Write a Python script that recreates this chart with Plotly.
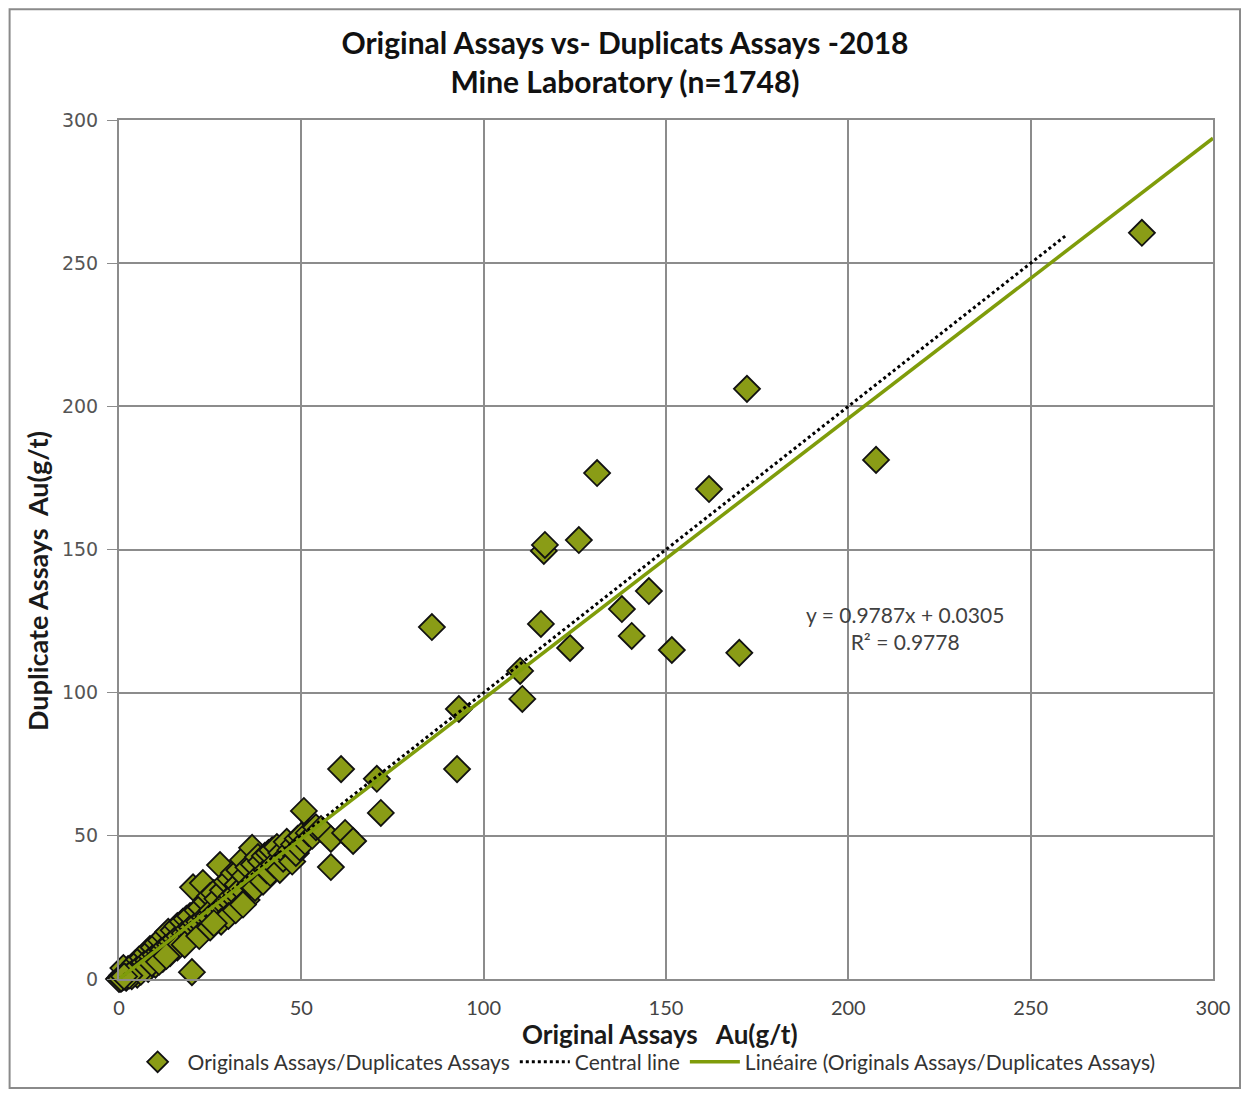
import plotly.graph_objects as go

# original assay (x) vs duplicate assay (y), Au g/t
orig_au = [
    0.2, 0.5, 0.8, 1.0, 1.5, 2.0, 2.5, 3.0, 1.2, 3.5, 4.0, 4.5, 5.0, 5.5, 6.0, 6.5,
    7.0, 7.5, 8.0, 8.5, 9.0, 9.5, 10.0, 10.5, 11.0, 11.5, 12.0, 12.5, 13.0, 13.5,
    14.0, 14.5, 15.0, 15.5, 16.0, 16.5, 17.0, 17.5, 18.0, 18.5, 19.0, 19.5, 20.0,
    20.3, 20.0, 21.0, 21.5, 22.0, 23.0, 22.5, 23.5, 24.0, 24.5, 25.0, 25.5, 26.0,
    26.5, 27.0, 27.7, 28.0, 28.5, 29.0, 29.5, 30.0, 30.5, 31.0, 31.5, 32.0, 32.5,
    33.0, 33.5, 34.0, 34.5, 35.0, 35.5, 36.5, 36.0, 37.0, 37.3, 38.1, 38.5, 39.0,
    39.5, 40.0, 40.5, 41.0, 41.5, 42.0, 42.5, 43.3, 44.1, 44.5, 45.0, 46.0, 46.5,
    47.0, 47.5, 48.0, 48.5, 49.0, 49.5, 50.0, 50.7, 51.0, 52.0, 53.0, 54.0, 55.4,
    58.1, 58.1, 5.0, 8.0, 10.0, 12.0, 14.0, 16.0, 18.0, 22.0, 25.0, 28.0, 30.0,
    32.0, 26.0, 34.0, 2.0, 3.5, 6.0, 9.0, 11.0, 13.0,
    0.0, 0.3, 0.6, 1.8, 0.1, 2.8, 0.9, 1.4,
    60.9, 62.0, 64.2, 70.7, 71.8, 85.8, 92.7, 93.2, 110.0, 110.6, 115.7, 116.5,
    116.8, 123.7, 126.1, 131.1, 137.9, 140.6, 145.3, 151.6, 161.8, 170.1, 172.2,
    207.6, 280.5,
]
dup_au = [
    0.3, 0.1, 1.2, 0.5, 2.0, 1.4, 3.5, 2.2, 3.8, 4.2, 3.0, 5.5, 4.0, 6.8, 5.0, 7.5,
    5.8, 9.0, 6.5, 10.5, 7.8, 11.0, 8.5, 12.5, 9.5, 13.5, 10.0, 15.0, 11.5, 16.5,
    12.0, 13.0, 17.0, 14.0, 18.5, 15.0, 13.0, 20.0, 16.0, 21.0, 17.5, 22.0, 18.0,
    32.0, 2.4, 19.5, 24.0, 20.0, 33.5, 25.0, 21.5, 27.0, 22.0, 29.0, 24.0, 30.0,
    23.5, 28.0, 39.8, 25.0, 31.0, 26.0, 34.0, 27.5, 35.0, 29.0, 37.0, 30.0, 33.0,
    38.0, 31.5, 41.6, 36.0, 27.6, 39.0, 45.8, 33.0, 40.0, 31.8, 42.6, 36.0, 41.0,
    34.0, 43.0, 38.0, 44.0, 37.0, 45.0, 40.0, 46.1, 38.1, 44.0, 42.0, 47.9, 43.0,
    45.0, 41.0, 47.0, 44.0, 49.0, 46.0, 50.0, 58.7, 48.0, 51.0, 50.0, 53.0, 52.4,
    48.9, 39.1, 1.5, 3.5, 5.0, 7.0, 9.0, 11.0, 12.0, 15.0, 18.0, 20.0, 22.0,
    24.0, 19.5, 26.0, 0.4, 1.0, 2.5, 5.5, 6.0, 8.0,
    0.0, -0.5, 0.2, 0.6, -1.0, 1.2, -0.3, 0.9,
    73.3, 51.0, 48.2, 69.9, 58.0, 122.9, 73.3, 94.3, 107.6, 97.8, 124.0, 149.5,
    151.6, 115.6, 153.3, 176.7, 129.2, 119.8, 135.5, 114.9, 171.1, 113.9, 206.1,
    181.3, 260.6,
]

central_x = [0, 260]
central_y = [0, 260]

slope = 0.9787
intercept = 0.0305
fit_x = [0, 300]
fit_y = [slope * v + intercept for v in fit_x]

olive = "#8a9c16"
grid = "#8c8c8c"
font_main = "Lato, Open Sans, sans-serif"

fig = go.Figure()
fig.add_trace(go.Scatter(
    x=orig_au, y=dup_au, mode="markers", name="Originals Assays/Duplicates Assays",
    marker=dict(symbol="diamond", size=20, color=olive, line=dict(color="#111111", width=1.8)),
    cliponaxis=False,
))
fig.add_trace(go.Scatter(
    x=central_x, y=central_y, mode="lines", name="Central line",
    line=dict(color="black", width=3, dash="dot"),
))
fig.add_trace(go.Scatter(
    x=fit_x, y=fit_y, mode="lines", name="Linéaire (Originals Assays/Duplicates Assays)",
    line=dict(color="#7f9c0a", width=3.5),
))

fig.add_annotation(
    x=215.5, y=122.6, xref="x", yref="y", showarrow=False,
    text="y = 0.9787x + 0.0305<br>R² = 0.9778",
    font=dict(size=21, color="#404040", family=font_main),
)
# axis titles
fig.add_annotation(
    x=-0.075, y=0.4633, xref="paper", yref="paper", showarrow=False, textangle=-90,
    xanchor="center", yanchor="middle",
    text="<b>Duplicate Assays  Au(g/t)</b>",
    font=dict(size=27, color="#1a1a1a", family=font_main),
)
fig.add_annotation(
    x=0.4945, y=-0.064, xref="paper", yref="paper", showarrow=False,
    xanchor="center", yanchor="middle",
    text="<b>Original Assays   Au(g/t)</b>",
    font=dict(size=26, color="#1a1a1a", family=font_main),
)

# outer chart border
fig.add_shape(type="rect", xref="paper", yref="paper",
              x0=-0.1, x1=1.0247, y0=-0.1269, y1=1.129,
              line=dict(color="#8a8a8a", width=2))

fig.update_layout(
    width=1249, height=1093,
    margin=dict(l=111, r=44, t=112, b=122, autoexpand=False),
    paper_bgcolor="white", plot_bgcolor="white",
    title=dict(
        text="<b>Original Assays vs- Duplicats Assays -2018<br>Mine Laboratory (n=1748)</b>",
        xref="paper", x=0.4625, xanchor="center", y=0.958, yanchor="top",
        font=dict(size=30, color="#111111", family=font_main),
    ),
    showlegend=True,
    legend=dict(
        orientation="h", xref="paper", x=0.48, xanchor="center", y=-0.073, yanchor="top",
        font=dict(size=21, color="#333333", family=font_main),
        bgcolor="rgba(0,0,0,0)", itemwidth=50,
    ),
    xaxis=dict(
        range=[0, 300], dtick=50, showgrid=True, gridcolor=grid, gridwidth=1.5,
        showline=True, linecolor=grid, linewidth=2, mirror=True, zeroline=False,
        ticks="", ticklabelstandoff=10,
        tickfont=dict(size=20, color="#444444", family=font_main),
    ),
    yaxis=dict(
        range=[0, 300], dtick=50, showgrid=True, gridcolor=grid, gridwidth=1.5,
        showline=True, linecolor=grid, linewidth=2, mirror=True, zeroline=False,
        ticks="outside", ticklen=10, tickcolor=grid, ticklabelstandoff=5,
        tickfont=dict(size=19, color="#555555", family="DejaVu Sans, sans-serif"),
    ),
)

fig.write_html("out.html")
